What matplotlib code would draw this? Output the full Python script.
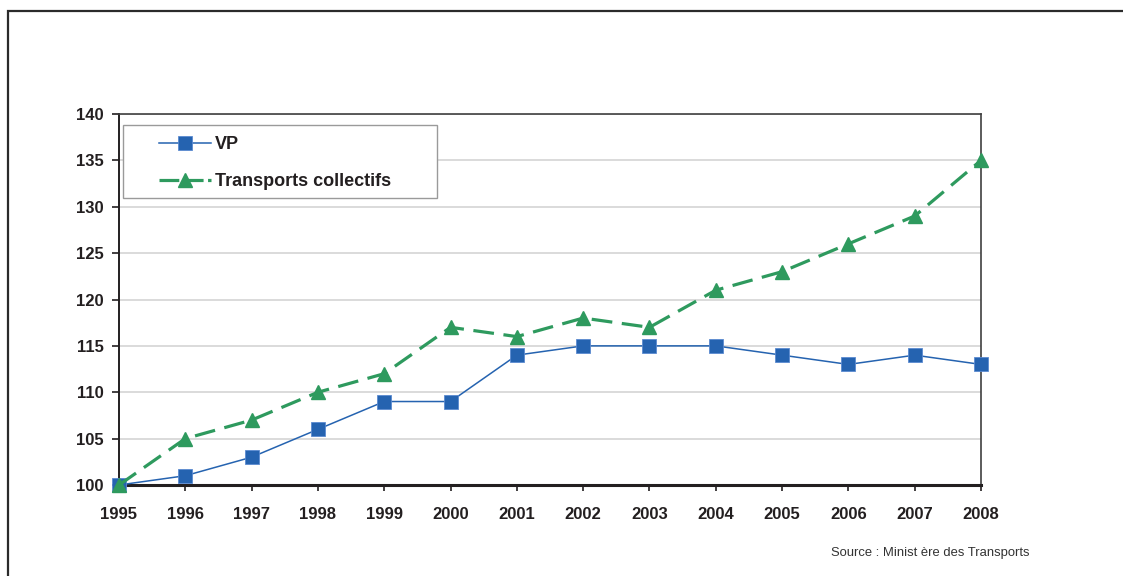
import matplotlib
matplotlib.use("Agg")
import matplotlib.pyplot as plt
from matplotlib.patches import Rectangle

years = list(range(1995, 2009))
vp = [100, 101, 103, 106, 109, 109, 114, 115, 115, 115, 114, 113, 114, 113]
tc = [100, 105, 107, 110, 112, 117, 116, 118, 117, 121, 123, 126, 129, 135]
y_ticks = [100, 105, 110, 115, 120, 125, 130, 135, 140]
series_names = ["VP", "Transports collectifs"]
source_text = "Source : Minist ère des Transports"

plt.rcParams["font.family"] = ["Liberation Sans", "DejaVu Sans"]

W, H = 1123, 576
fig = plt.figure(figsize=(W / 100, H / 100), dpi=100)
fig.patch.set_facecolor("white")


def fx(px):
    return px / W


def fy(py):
    return 1 - py / H


# outer frame, running off the right and bottom edges
fig.patches.append(Rectangle((fx(8), -0.05), 1.1, fy(11) + 0.05,
                             transform=fig.transFigure, fill=False,
                             edgecolor="#2b2b2b", linewidth=1.6))

ax = fig.add_axes([fx(119), fy(485), fx(981 - 119), (485 - 114) / H])

blue = "#2563b0"
green = "#2e9a5e"

ax.plot(years, vp, color=blue, linewidth=1.1, marker="s", markersize=9.5,
        markerfacecolor=blue, markeredgecolor="#5b8ad0", markeredgewidth=0.6,
        label=series_names[0], zorder=3, clip_on=False)
ax.plot(years, tc, color=green, linewidth=2.3, dashes=(6.5, 3), marker="^",
        markersize=10, markerfacecolor=green, markeredgecolor=green,
        label=series_names[1], zorder=4, clip_on=False)

ax.set_xlim(1995, 2008)
ax.set_ylim(100, 140)
ax.set_yticks(y_ticks)
ax.set_xticks(years)
ax.yaxis.grid(True, color="#d4d4d4", linewidth=1.2)
ax.set_axisbelow(True)

for lbl in ax.get_xticklabels() + ax.get_yticklabels():
    lbl.set_fontweight("bold")
    lbl.set_fontsize(12)
    lbl.set_color("#231f20")
ax.tick_params(axis="y", direction="out", length=5, width=1.2, pad=6, colors="#231f20")
ax.tick_params(axis="x", direction="out", length=4, width=1.2, pad=12, colors="#231f20")

ax.spines["left"].set_linewidth(1.4)
ax.spines["left"].set_color("#231f20")
ax.spines["bottom"].set_linewidth(2.2)
ax.spines["bottom"].set_color("#231f20")
for s in ("top", "right"):
    ax.spines[s].set_linewidth(1.2)
    ax.spines[s].set_color("#404040")

# legend box drawn as a plain rectangle, entries placed inside it
fig.patches.append(Rectangle((fx(123), fy(198)), fx(437 - 123), (198 - 125) / H,
                             transform=fig.transFigure, facecolor="white",
                             edgecolor="#9a9a9a", linewidth=1.0, zorder=5))
leg = fig.legend(loc="upper left", bbox_to_anchor=(fx(159), fy(136)),
                 frameon=False, borderaxespad=0, borderpad=0, handlelength=2.9,
                 handletextpad=0.2, labelspacing=1.1,
                 prop={"weight": "bold", "size": 13})
leg.set_zorder(6)
for t in leg.get_texts():
    t.set_color("#231f20")
leg.get_lines()[1].set_dashes((6.2, 1.4))

fig.text(fx(930), fy(553), source_text, ha="center", va="center",
         fontsize=9.4, color="#333333")

fig.savefig("out.png", dpi=100, facecolor="white")
